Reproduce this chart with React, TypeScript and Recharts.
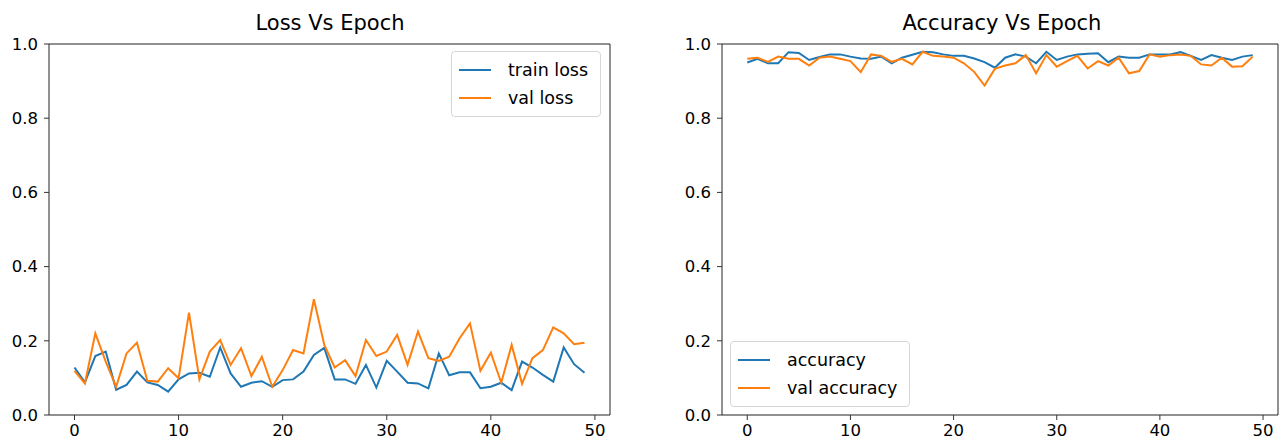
import { Legend, Line, LineChart, ReferenceArea, XAxis, YAxis } from "recharts";

const epochs = [
  0, 1, 2, 3, 4, 5, 6, 7, 8, 9, 10, 11, 12, 13, 14, 15, 16, 17, 18, 19, 20, 21, 22, 23, 24,
  25, 26, 27, 28, 29, 30, 31, 32, 33, 34, 35, 36, 37, 38, 39, 40, 41, 42, 43, 44, 45, 46, 47, 48, 49,
];

const trainLoss = [
  0.128, 0.088, 0.159, 0.171, 0.068, 0.081, 0.117, 0.088, 0.081, 0.063, 0.096, 0.112, 0.114, 0.103,
  0.182, 0.112, 0.076, 0.087, 0.091, 0.076, 0.094, 0.096, 0.117, 0.162, 0.181, 0.096, 0.096, 0.084,
  0.135, 0.074, 0.146, 0.117, 0.087, 0.085, 0.072, 0.166, 0.107, 0.115, 0.115, 0.072, 0.076, 0.087,
  0.067, 0.144, 0.128, 0.108, 0.09, 0.182, 0.137, 0.114,
];

const valLoss = [
  0.119, 0.085, 0.22, 0.144, 0.076, 0.166, 0.195, 0.092, 0.09, 0.126, 0.099, 0.276, 0.096, 0.171,
  0.202, 0.135, 0.18, 0.105, 0.157, 0.076, 0.121, 0.175, 0.166, 0.312, 0.189, 0.128, 0.148, 0.105,
  0.202, 0.159, 0.171, 0.216, 0.135, 0.225, 0.153, 0.146, 0.157, 0.207, 0.247, 0.119, 0.168, 0.087,
  0.189, 0.084, 0.153, 0.175, 0.236, 0.22, 0.191, 0.195,
];

const accuracy = [
  0.95, 0.96, 0.948, 0.948, 0.978, 0.976, 0.957, 0.965, 0.972, 0.972, 0.966, 0.961, 0.96, 0.966,
  0.948, 0.963, 0.971, 0.979, 0.978, 0.972, 0.968, 0.968, 0.961, 0.951, 0.936, 0.963, 0.972, 0.966,
  0.948, 0.979, 0.957, 0.966, 0.972, 0.974, 0.975, 0.951, 0.966, 0.963, 0.963, 0.972, 0.972, 0.972,
  0.978, 0.968, 0.957, 0.97, 0.963, 0.957, 0.966, 0.97,
];

const valAccuracy = [
  0.96, 0.963, 0.952, 0.966, 0.96, 0.96, 0.942, 0.963, 0.966, 0.96, 0.954, 0.924, 0.972, 0.968,
  0.952, 0.96, 0.945, 0.979, 0.968, 0.966, 0.963, 0.948, 0.925, 0.888, 0.933, 0.942, 0.948, 0.97,
  0.921, 0.97, 0.939, 0.954, 0.968, 0.934, 0.954, 0.942, 0.963, 0.921, 0.927, 0.972, 0.966, 0.97,
  0.972, 0.968, 0.945, 0.942, 0.963, 0.939, 0.94, 0.966,
];

const xTicks = [0, 10, 20, 30, 40, 50];
const yTicks = [0, 0.2, 0.4, 0.6, 0.8, 1.0];

const lossData = epochs.map((e, i) => ({ epoch: e, train: trainLoss[i], val: valLoss[i] }));
const accData = epochs.map((e, i) => ({ epoch: e, acc: accuracy[i], valAcc: valAccuracy[i] }));

const FONT = "'DejaVu Sans', sans-serif";
const BLUE = "#1f77b4";
const ORANGE = "#ff7f0e";
const X_DOMAIN: [number, number] = [-2.45, 51.45];

const tickStyle = { fill: "#000", fontSize: 16.5, fontFamily: FONT };

type Item = { label: string; color: string };

function legendBox(items: Item[]) {
  return () => (
    <div
      style={{
        border: "1px solid #d6d6d6",
        borderRadius: 4,
        background: "rgba(255,255,255,0.8)",
        padding: "4px 12px 4px 6px",
        fontFamily: FONT,
        fontSize: 17.5,
        color: "#000",
      }}
    >
      {items.map((it) => (
        <div key={it.label} style={{ display: "flex", alignItems: "center", height: 28 }}>
          <svg width={40} height={10} style={{ marginRight: 10 }}>
            <line x1={1} y1={5} x2={33} y2={5} stroke={it.color} strokeWidth={2} />
          </svg>
          <span>{it.label}</span>
        </div>
      ))}
    </div>
  );
}

function Title({ text, center }: { text: string; center: number }) {
  return (
    <div
      style={{
        position: "absolute",
        top: 11,
        left: center - 150,
        width: 300,
        textAlign: "center",
        fontFamily: FONT,
        fontSize: 21,
        color: "#000",
      }}
    >
      {text}
    </div>
  );
}

function Axes() {
  return [
    <XAxis
      key="x"
      dataKey="epoch"
      type="number"
      domain={X_DOMAIN}
      ticks={xTicks}
      allowDataOverflow
      height={29}
      tickSize={5}
      tickMargin={4}
      tick={tickStyle}
      axisLine={false}
      tickLine={{ stroke: "#333" }}
    />,
    <YAxis
      key="y"
      type="number"
      domain={[0, 1]}
      ticks={yTicks}
      allowDataOverflow
      width={40}
      tickSize={5}
      tickMargin={6}
      tick={tickStyle}
      tickFormatter={(v: number) => v.toFixed(1)}
      axisLine={false}
      tickLine={{ stroke: "#333" }}
    />,
    <ReferenceArea
      key="frame"
      x1={X_DOMAIN[0]}
      x2={X_DOMAIN[1]}
      y1={0}
      y2={1}
      fill="none"
      stroke="#222"
      strokeWidth={1}
      ifOverflow="visible"
    />,
  ];
}

export default function App() {
  return (
    <div style={{ position: "absolute", left: 0, top: 0, width: 1279, height: 444, background: "#fff" }}>
      <Title text="Loss Vs Epoch" center={330} />
      <Title text="Accuracy Vs Epoch" center={1002} />

      <div style={{ position: "absolute", left: 0, top: 0 }}>
        <LineChart width={620} height={444} data={lossData} margin={{ top: 44, right: 10, bottom: 0, left: 9 }}>
          {Axes()}
          <Line dataKey="train" stroke={BLUE} strokeWidth={2} dot={false} isAnimationActive={false} />
          <Line dataKey="val" stroke={ORANGE} strokeWidth={2} dot={false} isAnimationActive={false} />
          <Legend
            layout="vertical"
            align="center"
            verticalAlign="middle"
            content={legendBox([
              { label: "train loss", color: BLUE },
              { label: "val loss", color: ORANGE },
            ])}
            wrapperStyle={{ top: 51, left: 451, width: "auto" }}
          />
        </LineChart>
      </div>

      <div style={{ position: "absolute", left: 680, top: 0 }}>
        <LineChart width={599} height={444} data={accData} margin={{ top: 44, right: 1, bottom: 0, left: 2 }}>
          {Axes()}
          <Line dataKey="acc" stroke={BLUE} strokeWidth={2} dot={false} isAnimationActive={false} />
          <Line dataKey="valAcc" stroke={ORANGE} strokeWidth={2} dot={false} isAnimationActive={false} />
          <Legend
            layout="vertical"
            align="center"
            verticalAlign="middle"
            content={legendBox([
              { label: "accuracy", color: BLUE },
              { label: "val accuracy", color: ORANGE },
            ])}
            wrapperStyle={{ top: 341, left: 50, width: "auto" }}
          />
        </LineChart>
      </div>
    </div>
  );
}
